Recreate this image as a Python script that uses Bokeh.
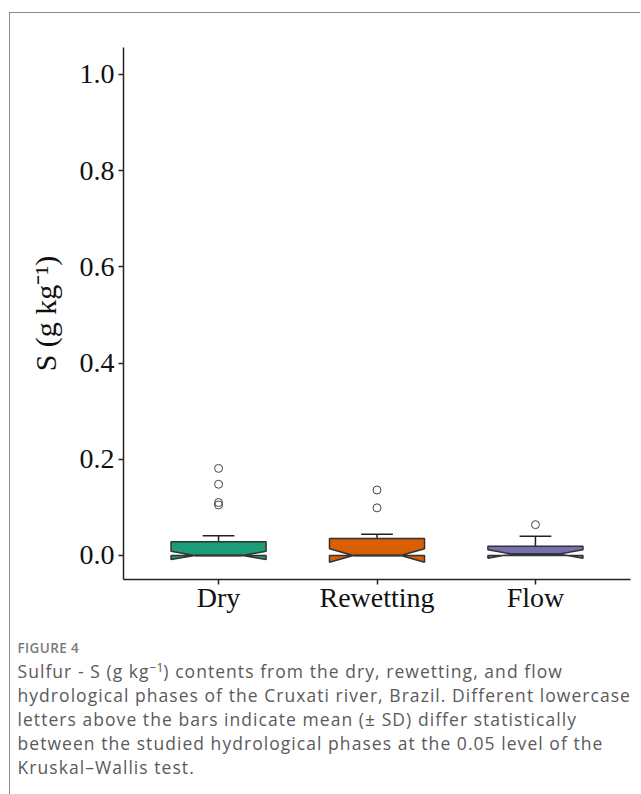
from bokeh.plotting import figure
from bokeh.models import Range1d, FixedTicker, Div
from bokeh.layouts import column
from bokeh.embed import file_html
from bokeh.resources import INLINE

# ---- data ----
categories = ["Dry", "Rewetting", "Flow"]
colors = ["#1B9E77", "#D95F02", "#7570B3"]
q1 = [0.0, 0.0, 0.0]
median = [0.0, 0.0, 0.003]
q3 = [0.0285, 0.035, 0.019]
whisker_hi = [0.041, 0.044, 0.040]
notch_lo = [-0.0085, -0.014, -0.006]
notch_hi = [0.0085, 0.014, 0.012]
outliers = [[0.181, 0.148, 0.110, 0.105], [0.136, 0.099], [0.064]]
y_ticks = [0.0, 0.2, 0.4, 0.6, 0.8, 1.0]

caption_title = "FIGURE 4"
caption_lines = [
    "Sulfur - S (g kg<sup style=\"font-size:12px;line-height:0;vertical-align:6px;letter-spacing:0\">\u22121</sup>) contents from the dry, rewetting, and flow",
    "hydrological phases of the Cruxati river, Brazil. Different lowercase",
    "letters above the bars indicate mean (\u00b1 SD) differ statistically",
    "between the studied hydrological phases at the 0.05 level of the",
    "Kruskal\u2013Wallis test.",
]

FIG_W, FIG_H = 630, 612
p = figure(width=FIG_W, height=FIG_H, output_backend="svg", toolbar_location=None,
           x_range=Range1d(0.4, 3.6), y_range=Range1d(-0.05, 1.056),
           min_border_left=113, min_border_right=10, min_border_top=34,
           min_border_bottom=46, margin=0)
p.outline_line_color = None
p.grid.visible = False
p.background_fill_color = "white"
p.border_fill_color = "white"

xs_pos = [i + 1 for i in range(len(categories))]
bw = 0.6
ind = 0.25 * bw

# whiskers + caps
p.segment(x0=xs_pos, y0=q3, x1=xs_pos, y1=whisker_hi, line_color="#222222", line_width=1.5)
p.segment(x0=[x - 0.1 for x in xs_pos], y0=whisker_hi, x1=[x + 0.1 for x in xs_pos],
          y1=whisker_hi, line_color="#222222", line_width=1.5)

# notched boxes (ggplot-style polygon)
pxs, pys = [], []
for x, a, m, b, nl, nh in zip(xs_pos, q1, median, q3, notch_lo, notch_hi):
    xmin, xmax = x - bw / 2, x + bw / 2
    pxs.append([xmin, xmin, xmin + ind, xmin, xmin, xmax, xmax, xmax - ind, xmax, xmax, xmin])
    pys.append([b, nh, m, nl, a, a, nl, m, nh, b, b])
p.patches(xs=pxs, ys=pys, fill_color=colors, line_color="#333333", line_width=1.5)
p.segment(x0=[x - bw / 2 + ind for x in xs_pos], y0=median,
          x1=[x + bw / 2 - ind for x in xs_pos], y1=median,
          line_color="#333333", line_width=2)

# outliers
ox, oy = [], []
for x, vals in zip(xs_pos, outliers):
    ox += [x] * len(vals)
    oy += vals
p.scatter(x=ox, y=oy, size=8, fill_color=None, line_color="#444444", line_width=1)

# axes
for ax in (p.xaxis[0], p.yaxis[0]):
    ax.axis_line_color = "#222222"
    ax.axis_line_width = 1.5
    ax.major_tick_line_color = "#222222"
    ax.major_tick_line_width = 1.5
    ax.major_tick_out = 5
    ax.major_tick_in = 0
    ax.minor_tick_line_color = None
    ax.major_label_text_font = "Liberation Serif"
    ax.major_label_text_font_size = "28px"
    ax.major_label_text_color = "#111111"

p.xaxis.ticker = FixedTicker(ticks=xs_pos)
p.xaxis.major_label_overrides = {x: c for x, c in zip(xs_pos, categories)}
p.xaxis.major_label_standoff = -3
p.yaxis.ticker = FixedTicker(ticks=y_ticks)
p.yaxis.major_label_overrides = {t: f"{t:.1f}" for t in y_ticks}
p.yaxis.major_label_standoff = 4
p.yaxis.axis_label = "S (g kg\u207b\u00b9)"
p.yaxis.axis_label_text_font = "Liberation Serif"
p.yaxis.axis_label_text_font_size = "30px"
p.yaxis.axis_label_text_font_style = "normal"
p.yaxis.axis_label_text_color = "#111111"
p.yaxis.axis_label_standoff = 15

# caption
html = (
    '<div style="font-family:\'Open Sans\',sans-serif;padding:16px 0 0 7.5px;">'
    f'<div style="font-size:13.5px;line-height:15px;font-weight:600;letter-spacing:0.4px;color:#7a7a7a;">{caption_title}</div>'
    '<div style="font-size:17.5px;line-height:24px;letter-spacing:1.05px;color:#5a5a5a;margin-top:3px;white-space:nowrap;">'
    + "<br>".join(caption_lines) +
    '</div></div>'
)
cap = Div(text=html, width=FIG_W, height=794 - 13 - FIG_H, margin=0)

page = column(p, cap, margin=0,
              styles={"margin-left": "9px", "margin-top": "12px",
                      "border-left": "1.5px solid #8c8c8c",
                      "border-top": "1.5px solid #8c8c8c",
                      "background-color": "white"})

open("out.html", "w").write(file_html(page, INLINE))
